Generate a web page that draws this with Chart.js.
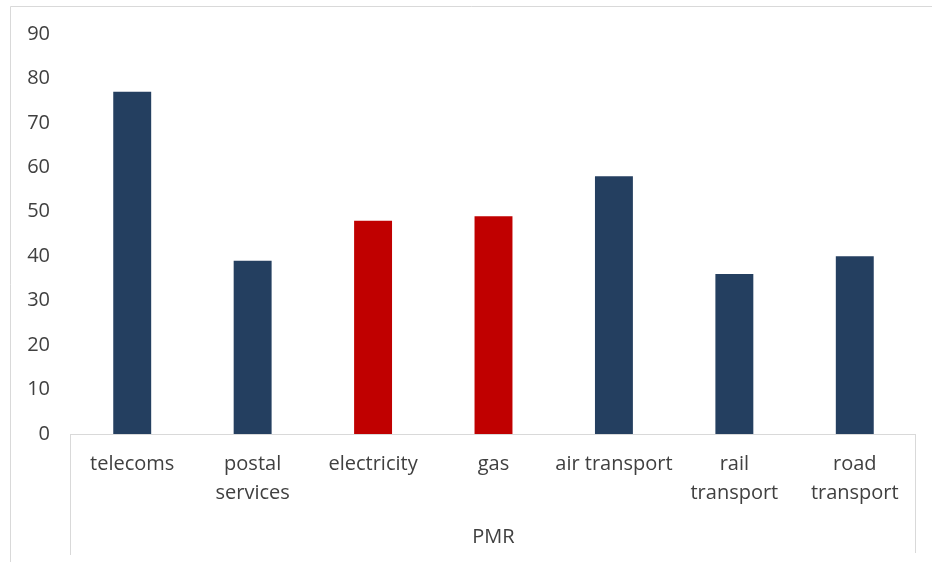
<!DOCTYPE html>
<html>
<head>
<meta charset="utf-8">
<script src="https://cdn.jsdelivr.net/npm/chart.js@4.4.1/dist/chart.umd.min.js"></script>
<style>
  html, body { margin: 0; padding: 0; background: #fff; }
  #wrap { width: 932px; height: 562px; position: relative; }
</style>
</head>
<body>
<div id="wrap"><canvas id="pmrChart"></canvas></div>
<script>
// PMR score by sector
const categories = [
    ['telecoms'],
    ['postal', 'services'],
    ['electricity'],
    ['gas'],
    ['air transport'],
    ['rail', 'transport'],
    ['road', 'transport']
];
const scores = [77, 39, 48, 49, 58, 36, 40];
const highlighted = ['electricity', 'gas'];
const yTicks = [0, 10, 20, 30, 40, 50, 60, 70, 80, 90];
const groupLabel = 'PMR';

const NAVY = '#243F60';
const RED = '#C00000';
const TEXT = '#404040';
const LINE = '#D9D9D9';
const FONT = "'Open Sans', sans-serif";

const barColors = categories.map(c => highlighted.includes(c.join(' ')) ? RED : NAVY);

// frame of the chart and the category box under the axis
const framePlugin = {
    id: 'frame',
    afterDraw(chart) {
        const {ctx, chartArea: {left, right, bottom}} = chart;
        ctx.save();
        ctx.strokeStyle = LINE;
        ctx.lineWidth = 1;
        ctx.beginPath();
        ctx.moveTo(10.5, 562);
        ctx.lineTo(10.5, 6.5);
        ctx.lineTo(932, 6.5);
        ctx.moveTo(Math.round(left) - 1.5, bottom);
        ctx.lineTo(Math.round(left) - 1.5, 555);
        ctx.moveTo(Math.round(right) + 0.5, bottom);
        ctx.lineTo(Math.round(right) + 0.5, 553);
        ctx.stroke();
        ctx.restore();
    }
};

new Chart(document.getElementById('pmrChart').getContext('2d'), {
    type: 'bar',
    data: {
        labels: categories,
        datasets: [{
            data: scores,
            backgroundColor: barColors,
            borderWidth: 0,
            barPercentage: 0.315,
            categoryPercentage: 1
        }]
    },
    options: {
        responsive: true,
        maintainAspectRatio: false,
        animation: false,
        layout: { padding: { top: 33, right: 17, bottom: 0, left: 0 } },
        plugins: {
            legend: { display: false },
            tooltip: { enabled: false }
        },
        scales: {
            x: {
                grid: { display: false, drawTicks: false },
                border: { display: false },
                ticks: {
                    color: TEXT,
                    font: { family: FONT, size: 20, lineHeight: 1.45 },
                    padding: 16,
                    maxRotation: 0,
                    autoSkip: false
                },
                title: {
                    display: true,
                    text: groupLabel,
                    color: TEXT,
                    font: { family: FONT, size: 20 },
                    padding: { top: 0, bottom: 13 }
                },
                afterFit(scale) { scale.height = 128; }
            },
            y: {
                min: 0,
                max: 90,
                afterBuildTicks(scale) { scale.ticks = yTicks.map(v => ({value: v})); },
                grid: { display: false, drawTicks: false },
                border: { display: false },
                ticks: {
                    color: TEXT,
                    font: { family: FONT, size: 20 },
                    padding: 22
                },
                afterFit(scale) { scale.width = 72; }
            }
        }
    },
    plugins: [framePlugin, {
        // axis line across the bottom of the plot, from the left box edge
        id: 'baseline',
        afterDraw(chart) {
            const {ctx, chartArea: {left, right, bottom}} = chart;
            ctx.save();
            ctx.strokeStyle = LINE;
            ctx.lineWidth = 1;
            ctx.beginPath();
            ctx.moveTo(Math.round(left) - 2, Math.round(bottom) + 0.5);
            ctx.lineTo(Math.round(right) + 1, Math.round(bottom) + 0.5);
            ctx.stroke();
            ctx.restore();
        }
    }]
});
</script>
</body>
</html>
